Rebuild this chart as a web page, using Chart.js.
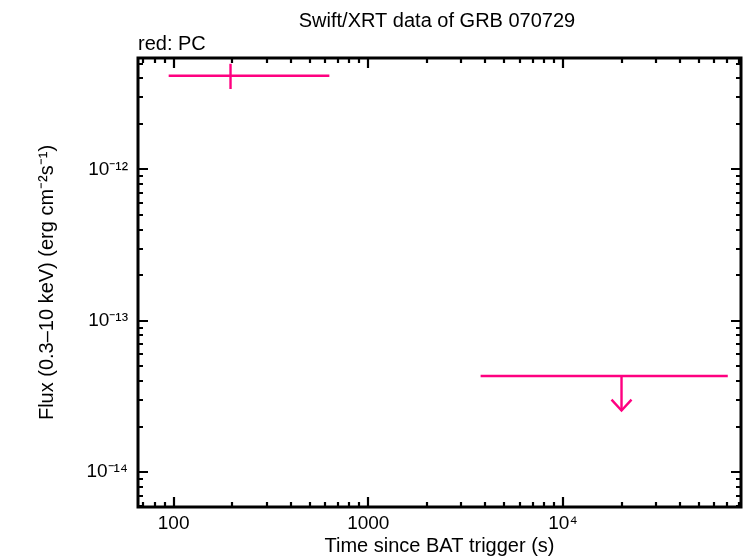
<!DOCTYPE html>
<html><head><meta charset="utf-8">
<script src="https://cdn.jsdelivr.net/npm/chart.js@4"></script>
<style>html,body{margin:0;padding:0;background:#fff}</style>
</head><body>
<canvas id="c" width="746" height="558" style="display:block;width:746px;height:558px"></canvas>
<script>
// PC mode detection (time in s, flux in erg cm^-2 s^-1)
const pcTime   = [196];
const pcTimeLo = [94.3];
const pcTimeHi = [631];
const pcFlux   = [4.16e-12];
const pcFluxLo = [3.40e-12];
const pcFluxHi = [4.99e-12];
// PC upper limit
const ulTime     = [20000];
const ulTimeLo   = [3776];
const ulTimeHi   = [70300];
const ulFlux     = [4.32e-14];
const ulArrowTip = [2.55e-14];
// axes
const xTickValues = [100, 1000, 10000];
const xTickLabels = ['100', '1000', '10⁴'];
const yTickValues = [1e-14, 1e-13, 1e-12];
const yTickLabels = ['10⁻¹⁴', '10⁻¹³', '10⁻¹²'];
const xRange = [65.6, 82200];
const yRange = [5.88e-15, 5.45e-12];

const PINK = '#ff0080';
const FONT = "'Liberation Sans', Arial, Helvetica, sans-serif";

const datasets = [];
function seg(a, b) {
  datasets.push({data: [a, b], showLine: true, pointRadius: 0, borderColor: PINK, borderWidth: 2.4, fill: false, borderCapStyle: 'butt'});
}
pcTime.forEach((t, i) => {
  seg({x: pcTimeLo[i], y: pcFlux[i]}, {x: pcTimeHi[i], y: pcFlux[i]});
  seg({x: t, y: pcFluxLo[i]}, {x: t, y: pcFluxHi[i]});
});
ulTime.forEach((t, i) => {
  seg({x: ulTimeLo[i], y: ulFlux[i]}, {x: ulTimeHi[i], y: ulFlux[i]});
  seg({x: t, y: ulFlux[i]}, {x: t, y: ulArrowTip[i]});
});

const framePlugin = {
  id: 'frame',
  afterDraw(chart) {
    const ctx = chart.ctx, a = chart.chartArea;
    const xs = chart.scales.x, ys = chart.scales.y;
    ctx.save();
    // arrow heads for upper limits
    ctx.strokeStyle = PINK; ctx.lineWidth = 2.4;
    ulTime.forEach((t, i) => {
      const px = xs.getPixelForValue(t), py = ys.getPixelForValue(ulArrowTip[i]);
      ctx.beginPath();
      ctx.moveTo(px - 10, py - 11); ctx.lineTo(px, py); ctx.lineTo(px + 10, py - 11);
      ctx.stroke();
    });
    // ticks
    ctx.strokeStyle = '#000'; ctx.lineWidth = 2.2;
    function decadeTicks(lo, hi, cb) {
      for (let e = Math.floor(Math.log10(lo)); e <= Math.ceil(Math.log10(hi)); e++) {
        for (let k = 1; k <= 9; k++) {
          const v = k * Math.pow(10, e);
          if (v >= lo && v <= hi) cb(v, k === 1);
        }
      }
    }
    ctx.beginPath();
    decadeTicks(xRange[0], xRange[1], (v, major) => {
      const px = Math.round(xs.getPixelForValue(v));
      const L = major ? 10 : 5;
      ctx.moveTo(px, a.bottom); ctx.lineTo(px, a.bottom - L);
      ctx.moveTo(px, a.top); ctx.lineTo(px, a.top + L);
    });
    decadeTicks(yRange[0], yRange[1], (v, major) => {
      const py = Math.round(ys.getPixelForValue(v));
      const L = major ? 10 : 5;
      ctx.moveTo(a.left, py); ctx.lineTo(a.left + L, py);
      ctx.moveTo(a.right, py); ctx.lineTo(a.right - L, py);
    });
    ctx.stroke();
    // frame
    ctx.lineWidth = 3;
    ctx.strokeRect(a.left, a.top, a.right - a.left, a.bottom - a.top);
    // titles
    ctx.fillStyle = '#000';
    ctx.font = '20px ' + FONT;
    ctx.textAlign = 'center'; ctx.textBaseline = 'alphabetic';
    ctx.fillText('Swift/XRT data of GRB 070729', 437, 27);
    ctx.textAlign = 'left';
    ctx.fillText('red: PC', 138, 50);
    ctx.restore();
  }
};

new Chart(document.getElementById('c'), {
  type: 'scatter',
  data: {datasets},
  options: {
    responsive: false,
    animation: false,
    devicePixelRatio: 1,
    layout: {padding: {top: 58, right: 5, left: 0, bottom: 0}},
    plugins: {legend: {display: false}, tooltip: {enabled: false}, title: {display: false}},
    scales: {
      x: {
        type: 'logarithmic', min: xRange[0], max: xRange[1],
        afterBuildTicks: s => { s.ticks = xTickValues.map(v => ({value: v})); },
        afterFit: s => { s.height = 51; },
        grid: {display: false, drawTicks: false}, border: {display: false},
        ticks: {autoSkip: false, maxRotation: 0, padding: 5, color: '#000', font: {family: FONT, size: 19},
          callback: (v, i) => xTickLabels[i]},
        title: {display: true, text: 'Time since BAT trigger (s)', color: '#000', font: {family: FONT, size: 20}, padding: {top: 0, bottom: 0}}
      },
      y: {
        type: 'logarithmic', min: yRange[0], max: yRange[1],
        afterBuildTicks: s => { s.ticks = yTickValues.map(v => ({value: v})); },
        afterFit: s => { s.width = 138; },
        grid: {display: false, drawTicks: false}, border: {display: false},
        ticks: {autoSkip: false, padding: 10, color: '#000', font: {family: FONT, size: 19},
          callback: (v, i) => yTickLabels[i]},
        title: {display: true, text: 'Flux (0.3–10 keV) (erg cm⁻²s⁻¹)', color: '#000', font: {family: FONT, size: 20}, padding: {top: 35, bottom: 0}}
      }
    }
  },
  plugins: [framePlugin]
});
</script>
</body></html>
